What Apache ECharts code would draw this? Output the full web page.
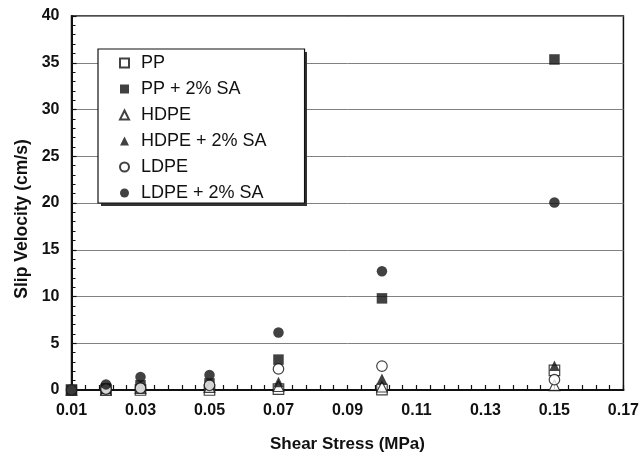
<!DOCTYPE html>
<html>
<head>
<meta charset="utf-8">
<script src="https://cdn.jsdelivr.net/npm/echarts@6/dist/echarts.min.js"></script>
<style>html,body{margin:0;padding:0;background:#fff;}#c{width:642px;height:458px;}</style>
</head>
<body>
<div id="c"></div>
<script>
// Shear stress (MPa)
var xValues = [0.01, 0.02, 0.03, 0.05, 0.07, 0.10, 0.15];
// Slip velocity (cm/s)
var ppValues     = [0, 0, 0, 0, 0.1, 0.05, 2.1];
var ppSAValues   = [0, 0.2, 0.5, 0.7, 3.25, 9.8, 35.35];
var hdpeValues   = [0, 0, 0.2, 0.3, 0.4, 0.35, 0.5];
var hdpeSAValues = [0, 0.1, 0.3, 0.6, 0.85, 1.2, 2.6];
var ldpeValues   = [0, 0.1, 0.2, 0.5, 2.25, 2.55, 1.1];
var ldpeSAValues = [0, 0.6, 1.4, 1.6, 6.15, 12.7, 20.05];
var seriesNames = ['PP', 'PP + 2% SA', 'HDPE', 'HDPE + 2% SA', 'LDPE', 'LDPE + 2% SA'];
var xTickLabels = [0.01, 0.03, 0.05, 0.07, 0.09, 0.11, 0.13, 0.15, 0.17];

function pairs(ys) { return xValues.map(function (x, i) { return [x, ys[i]]; }); }
var minorX = [];
for (var i = 0; i < xTickLabels.length - 1; i++) {
  for (var k = 0; k < 5; k++) {
    minorX.push(+(xTickLabels[i] + (xTickLabels[i + 1] - xTickLabels[i]) * k / 5).toFixed(4));
  }
}
minorX.push(xTickLabels[xTickLabels.length - 1]);

var ink = '#111111';
var font = '"Liberation Sans", Arial, Helvetica, sans-serif';
function mk(name, ys, symbol, filled) {
  return {
    name: name, type: 'scatter', data: pairs(ys), symbol: symbol, symbolSize: 10.5, z: 3,
    itemStyle: filled ? { color: ink, borderColor: ink, borderWidth: 0 }
                      : { color: '#ffffff', borderColor: ink, borderWidth: 1.2 }
  };
}

var chart = echarts.init(document.getElementById('c'), null, { renderer: 'canvas' });
chart.setOption({
  animation: false,
  backgroundColor: '#ffffff',
  grid: { left: 71.5, right: 18.5, top: 16, bottom: 65, show: true, borderColor: ink, borderWidth: 1.5, backgroundColor: 'transparent' },
  graphic: [{
    type: 'rect', z: 5, silent: true,
    shape: { x: 101, y: 52, width: 206, height: 154 },
    style: { fill: '#333333' }
  }],
  legend: {
    orient: 'vertical', left: 98, top: 49, z: 10,
    padding: [5, 38, 1, 21],
    itemGap: 8, itemWidth: 9, itemHeight: 9,
    backgroundColor: '#ffffff', borderColor: ink, borderWidth: 1.2,
    textStyle: { fontFamily: font, fontSize: 18, lineHeight: 18, color: ink, padding: [0, 0, 0, 7] },
    data: seriesNames
  },
  xAxis: {
    type: 'value', min: 0.01, max: 0.17,
    name: 'Shear Stress (MPa)', nameLocation: 'middle', nameGap: 46,
    nameTextStyle: { fontFamily: font, fontSize: 17, fontWeight: 'bold', color: ink },
    axisLine: { show: true, onZero: false, lineStyle: { color: ink, width: 2 } },
    axisTick: { show: true, inside: true, length: 5, customValues: minorX, lineStyle: { color: ink, width: 1.2 } },
    axisLabel: { customValues: xTickLabels, margin: 13, fontFamily: font, fontSize: 16, fontWeight: 'bold', color: ink,
      formatter: function (v) { return v.toFixed(2); } },
    splitLine: { show: false }
  },
  yAxis: {
    type: 'value', min: 0, max: 40, interval: 5,
    name: 'Slip Velocity (cm/s)', nameLocation: 'middle', nameGap: 36, nameRotate: 90,
    nameTextStyle: { fontFamily: font, fontSize: 17.5, fontWeight: 'bold', color: ink, padding: [0, 32, 0, 0] },
    axisLine: { show: true, lineStyle: { color: ink, width: 2 } },
    axisTick: { show: true, inside: true, length: 5, lineStyle: { color: ink, width: 1.2 } },
    minorTick: { show: true, splitNumber: 5, length: 4, lineStyle: { color: ink, width: 1 } },
    axisLabel: { margin: 12, fontFamily: font, fontSize: 16, fontWeight: 'bold', color: ink },
    splitLine: { show: true, lineStyle: { color: '#808080', width: 1 } }
  },
  series: [
    mk(seriesNames[0], ppValues, 'rect', false),
    mk(seriesNames[1], ppSAValues, 'rect', true),
    mk(seriesNames[2], hdpeValues, 'triangle', false),
    mk(seriesNames[3], hdpeSAValues, 'triangle', true),
    mk(seriesNames[4], ldpeValues, 'circle', false),
    mk(seriesNames[5], ldpeSAValues, 'circle', true)
  ]
});
</script>
</body>
</html>
